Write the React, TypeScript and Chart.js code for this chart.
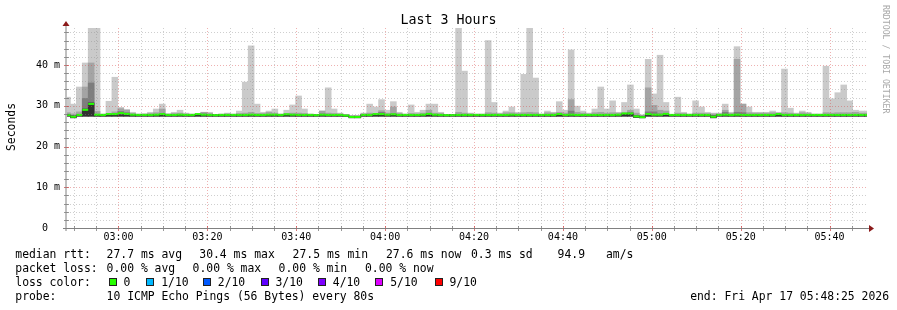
import React, { useEffect, useRef } from 'react';
import { Chart, registerables } from 'chart.js';

Chart.register(...registerables);

// ---------------- data ----------------
const START_CLOCK = '02:48:25';
const END_TEXT = 'end: Fri Apr 17 05:48:25 2026';
const STEP_SECONDS = 80;
const FIRST_SAMPLE_SECONDS = 6;
const SPAN_MINUTES = 180;
const Y_MAX = 49.08;

const xTickLabels = ['03:00', '03:20', '03:40', '04:00', '04:20', '04:40', '05:00', '05:20', '05:40'];
const yTickValues = [0, 10, 20, 30, 40];
const yTickLabels = ['0  ', '10 m', '20 m', '30 m', '40 m'];

// top of outermost smoke band (ping 10), ms
const smokeMax = [
  32.1, 30.4, 34.6, 40.5, 49.5, 49.5, 28.0, 31.1, 37.0, 29.6,
  29.1, 28.4, 28.0, 28.1, 28.4, 29.2, 30.4, 28.1, 28.4, 28.9,
  28.2, 28.0, 28.0, 28.4, 28.4, 27.9, 28.0, 28.2, 28.0, 28.7,
  35.8, 44.7, 30.4, 28.4, 28.7, 29.2, 28.0, 28.9, 30.2, 32.4,
  29.2, 28.0, 27.9, 28.7, 34.4, 29.2, 28.2, 27.8, 27.5, 27.5,
  28.2, 30.4, 29.7, 31.5, 28.9, 31.0, 28.4, 28.0, 30.2, 28.4,
  28.9, 30.4, 30.4, 28.4, 27.9, 27.9, 49.5, 38.5, 28.2, 28.0,
  28.0, 46.0, 30.8, 28.2, 28.7, 29.7, 28.4, 37.7, 49.5, 36.8,
  28.0, 28.7, 28.4, 31.0, 28.9, 43.7, 29.9, 28.7, 28.2, 29.2,
  34.6, 29.2, 31.2, 28.4, 30.8, 35.1, 29.2, 27.8, 41.4, 32.9,
  42.4, 30.8, 27.9, 32.1, 28.4, 28.0, 31.2, 29.7, 28.4, 28.2,
  28.2, 30.4, 28.4, 44.5, 30.4, 29.7, 28.4, 28.4, 28.4, 28.7,
  28.4, 39.0, 29.4, 28.2, 28.7, 28.4, 28.0, 28.0, 39.7, 31.7,
  33.2, 35.1, 31.2, 28.9, 28.7, 28.7,
];

// top of second band (ping 9)
const smokeHi = [
  28.3, 28.0, 28.5, 34.6, 40.5, 28.6, 27.9, 28.1, 28.5, 29.3,
  28.9, 28.1, 27.9, 27.9, 28.1, 28.3, 29.2, 27.9, 28.1, 28.2,
  28.0, 27.9, 27.9, 28.4, 28.1, 27.8, 27.9, 28.0, 27.9, 28.1,
  28.2, 28.4, 28.1, 28.1, 28.4, 28.2, 27.9, 28.1, 28.2, 28.2,
  28.1, 27.9, 27.8, 28.7, 28.2, 28.1, 28.0, 27.7, 27.5, 27.5,
  28.0, 28.2, 28.1, 28.8, 28.2, 29.7, 28.1, 27.9, 28.1, 28.0,
  28.2, 28.9, 28.2, 28.1, 27.8, 27.8, 28.4, 28.2, 28.0, 27.9,
  27.9, 28.3, 28.2, 28.0, 28.3, 28.3, 28.1, 28.3, 28.4, 28.3,
  27.9, 28.3, 28.2, 28.4, 28.2, 31.5, 28.4, 28.2, 28.0, 28.3,
  28.4, 28.2, 28.3, 28.2, 28.3, 28.9, 28.2, 27.6, 34.4, 30.1,
  28.9, 28.7, 27.8, 28.2, 28.1, 27.9, 28.2, 28.2, 28.1, 28.0,
  28.0, 28.9, 28.1, 41.4, 30.4, 28.3, 28.2, 28.2, 28.2, 28.3,
  28.2, 28.3, 28.2, 28.0, 28.3, 28.1, 27.9, 27.9, 28.3, 28.2,
  28.3, 28.3, 28.3, 28.4, 28.2, 28.2,
];

// top of third band (ping 8)
const smokeMid = [
  27.85, 27.6, 27.85, 31.8, 35.6, 27.9, 27.85, 27.9, 27.9, 28.6,
  28.3, 27.9, 27.85, 27.85, 27.85, 27.9, 28.0, 27.85, 27.85, 27.9,
  27.85, 27.85, 27.85, 28.0, 27.85, 27.85, 27.85, 27.85, 27.85, 27.85,
  27.9, 27.9, 27.85, 27.85, 27.9, 27.85, 27.85, 27.9, 27.85, 27.85,
  27.85, 27.85, 27.8, 28.0, 27.9, 27.85, 27.85, 27.7, 27.5, 27.5,
  27.85, 27.85, 27.9, 28.4, 27.85, 28.0, 27.85, 27.85, 27.85, 27.85,
  27.85, 28.1, 27.85, 27.85, 27.8, 27.8, 27.9, 27.85, 27.85, 27.85,
  27.85, 27.85, 27.85, 27.85, 27.85, 27.85, 27.85, 27.85, 27.9, 27.85,
  27.85, 27.85, 27.85, 27.9, 27.85, 28.7, 27.85, 27.85, 27.85, 27.85,
  27.9, 27.85, 27.85, 27.85, 28.0, 28.4, 27.6, 27.5, 28.5, 28.5,
  28.0, 28.0, 27.8, 27.85, 27.85, 27.85, 27.85, 27.85, 27.85, 27.6,
  27.85, 28.4, 27.85, 28.4, 28.3, 27.85, 27.85, 27.85, 27.85, 27.85,
  27.85, 27.85, 27.85, 27.85, 27.85, 27.85, 27.85, 27.85, 27.85, 27.85,
  27.85, 27.85, 27.85, 27.85, 27.85, 27.85,
];

// top of innermost band (ping 6)
const smokeCore = [
  27.8, 27.5, 27.8, 29.2, 30.7, 27.8, 27.8, 27.8, 27.8, 27.8,
  27.8, 27.8, 27.8, 27.8, 27.8, 27.8, 27.8, 27.8, 27.8, 27.8,
  27.8, 27.8, 27.8, 27.8, 27.8, 27.8, 27.8, 27.8, 27.8, 27.8,
  27.8, 27.8, 27.8, 27.8, 27.8, 27.8, 27.8, 27.8, 27.8, 27.8,
  27.8, 27.8, 27.8, 27.8, 27.8, 27.8, 27.8, 27.7, 27.4, 27.4,
  27.8, 27.8, 27.8, 27.8, 27.8, 27.8, 27.8, 27.8, 27.8, 27.8,
  27.8, 27.8, 27.8, 27.8, 27.8, 27.8, 27.8, 27.8, 27.8, 27.8,
  27.8, 27.8, 27.8, 27.8, 27.8, 27.8, 27.8, 27.8, 27.8, 27.8,
  27.8, 27.8, 27.8, 27.8, 27.8, 27.8, 27.8, 27.8, 27.8, 27.8,
  27.8, 27.8, 27.8, 27.8, 28.0, 28.0, 27.5, 27.4, 27.8, 27.8,
  27.8, 27.8, 27.8, 27.8, 27.8, 27.8, 27.8, 27.8, 27.8, 27.5,
  27.8, 27.8, 27.8, 27.8, 27.8, 27.8, 27.8, 27.8, 27.8, 27.8,
  27.8, 27.8, 27.8, 27.8, 27.8, 27.8, 27.8, 27.8, 27.8, 27.8,
  27.8, 27.8, 27.8, 27.8, 27.8, 27.8,
];

// lowest ping (bottom of all bands)
const smokeLow = [
  27.45, 27.05, 27.45, 27.45, 27.45, 27.45, 27.45, 27.45, 27.45, 27.45,
  27.45, 27.45, 27.45, 27.45, 27.45, 27.45, 27.45, 27.45, 27.45, 27.45,
  27.45, 27.45, 27.45, 27.45, 27.45, 27.45, 27.45, 27.45, 27.45, 27.45,
  27.45, 27.45, 27.45, 27.45, 27.45, 27.45, 27.45, 27.45, 27.45, 27.45,
  27.45, 27.45, 27.45, 27.45, 27.45, 27.45, 27.45, 27.4, 27.05, 27.05,
  27.45, 27.45, 27.45, 27.45, 27.45, 27.45, 27.45, 27.45, 27.45, 27.45,
  27.45, 27.45, 27.45, 27.45, 27.45, 27.45, 27.45, 27.45, 27.45, 27.45,
  27.45, 27.45, 27.45, 27.45, 27.45, 27.45, 27.45, 27.45, 27.45, 27.45,
  27.45, 27.45, 27.45, 27.45, 27.45, 27.45, 27.45, 27.45, 27.45, 27.45,
  27.45, 27.45, 27.45, 27.45, 27.45, 27.45, 27.15, 27.05, 27.45, 27.45,
  27.45, 27.45, 27.45, 27.45, 27.45, 27.45, 27.45, 27.45, 27.45, 27.05,
  27.45, 27.45, 27.45, 27.45, 27.45, 27.45, 27.45, 27.45, 27.45, 27.45,
  27.45, 27.45, 27.45, 27.45, 27.45, 27.45, 27.45, 27.45, 27.45, 27.45,
  27.45, 27.45, 27.45, 27.45, 27.45, 27.45,
];

// median rtt, ms
const medianRtt = [
  27.75, 27.3, 27.75, 29.0, 30.45, 27.8, 27.75, 27.95, 27.95, 28.2,
  28.0, 27.8, 27.75, 27.75, 27.75, 27.8, 27.95, 27.75, 27.75, 27.8,
  27.75, 27.75, 27.95, 27.8, 27.75, 27.7, 27.75, 27.75, 27.75, 27.75,
  27.75, 27.8, 27.75, 27.75, 27.8, 27.8, 27.75, 27.9, 27.8, 27.75,
  27.75, 27.75, 27.7, 27.8, 27.75, 27.75, 27.75, 27.6, 27.25, 27.25,
  27.75, 27.75, 27.95, 27.95, 27.8, 27.9, 27.75, 27.75, 27.75, 27.75,
  27.8, 28.0, 27.8, 27.75, 27.7, 27.7, 27.75, 27.75, 27.75, 27.75,
  27.75, 27.75, 27.75, 27.75, 27.75, 27.8, 27.75, 27.75, 27.75, 27.75,
  27.75, 27.75, 27.75, 27.95, 27.75, 27.8, 27.75, 27.75, 27.75, 27.75,
  27.75, 27.75, 27.75, 27.8, 28.1, 28.1, 27.4, 27.2, 27.95, 27.8,
  27.8, 28.0, 27.75, 27.75, 27.75, 27.75, 27.75, 27.75, 27.75, 27.3,
  27.75, 27.8, 27.75, 27.8, 27.75, 27.75, 27.75, 27.75, 27.75, 27.75,
  27.95, 27.75, 27.75, 27.75, 27.75, 27.75, 27.75, 27.75, 27.75, 27.75,
  27.75, 27.75, 27.75, 27.75, 27.75, 27.75,
];

const rttLabel = 'median rtt:';
const rttStats = ['27.7 ms avg', '30.4 ms max', '27.5 ms min', '27.6 ms now', '0.3 ms sd', '94.9', 'am/s'];
const lossLabel = 'packet loss:';
const lossStats = ['0.00 % avg', '0.00 % max', '0.00 % min', '0.00 % now'];
const lossColorLabel = 'loss color:';
const lossLevels = ['0', '1/10', '2/10', '3/10', '4/10', '5/10', '9/10'];
const lossColors = ['#26ff00', '#00b8ff', '#0059ff', '#5e00ff', '#7e00ff', '#dd00ff', '#ff0000'];
const probeLabel = 'probe:';
const probeText = '10 ICMP Echo Pings (56 Bytes) every 80s';
const TITLE = 'Last 3 Hours';
const Y_TITLE = 'Seconds';
const WATERMARK = 'RRDTOOL / TOBI OETIKER';

// ---------------- layout / style ----------------
const W = 897;
const H = 310;
const MONO = '"DejaVu Sans Mono", monospace';
const LEG_SIZE = 11.4;
const RTT_X = [106.6, 199.3, 292.6, 386, 471, 557.6, 606];
const LOSS_X = [106.6, 192.6, 278.6, 365];
const BOX_X = [108.5, 146.2, 202.8, 260.5, 317.8, 375.2, 434.5];
const ROWS = [258, 272, 286, 300];
const MEDIAN_BAND = 0.5;
const SMOKE_COLORS = ['#cacaca', '#a4a4a4', '#7e7e7e', '#323232'];
const MINOR_GRID = 'rgba(140,140,140,0.42)';
const MAJOR_GRID = 'rgba(215,70,70,0.42)';

const clockToMin = (s: string) => {
  const p = s.split(':').map(Number);
  return p[0] * 60 + p[1] + (p[2] || 0) / 60;
};
const startMin = clockToMin(START_CLOCK);
const xTickValues = xTickLabels.map((l) => clockToMin(l) - startMin);
const sampleX = smokeMax.map((_, i) => (FIRST_SAMPLE_SECONDS + i * STEP_SECONDS) / 60);

const barDataset = (low: number[], top: number[], color: string, order: number) => ({
  type: 'bar' as const,
  data: top.map((t, i) => ({ x: sampleX[i], y: [low[i], t] })),
  backgroundColor: color,
  borderWidth: 0,
  barPercentage: 1,
  categoryPercentage: 1,
  grouped: false,
  order,
});

const decor = {
  id: 'decor',
  beforeDraw(chart: any) {
    const ctx = chart.ctx;
    ctx.save();
    ctx.fillStyle = '#ffffff';
    ctx.fillRect(0, 0, chart.width, chart.height);
    ctx.restore();
  },
  afterDatasetsDraw(chart: any) {
    const { ctx, chartArea: a, scales } = chart;
    const xs = scales.x;
    const ys = scales.y;
    ctx.save();
    ctx.lineWidth = 1;
    // horizontal grid
    for (let k = 1; k * 2 < Y_MAX; k++) {
      const v = k * 2;
      const major = v % 10 === 0;
      const py = Math.round(ys.getPixelForValue(v)) + 0.5;
      ctx.setLineDash([1, 2]);
      ctx.strokeStyle = major ? MAJOR_GRID : MINOR_GRID;
      ctx.beginPath();
      ctx.moveTo(a.left, py);
      ctx.lineTo(a.right, py);
      ctx.stroke();
      ctx.setLineDash([]);
      ctx.strokeStyle = major ? 'rgba(200,60,60,0.7)' : 'rgba(110,110,110,0.7)';
      ctx.beginPath();
      ctx.moveTo(a.left - 3, py);
      ctx.lineTo(a.left + 2, py);
      ctx.stroke();
    }
    // vertical grid every 5 minutes
    const first = Math.ceil(startMin / 5) * 5;
    for (let m = first; m - startMin <= SPAN_MINUTES; m += 5) {
      const major = m % 20 === 0;
      const px = Math.round(xs.getPixelForValue(m - startMin)) + 0.5;
      if (px <= a.left + 1) continue;
      ctx.setLineDash([1, 2]);
      ctx.strokeStyle = major ? MAJOR_GRID : MINOR_GRID;
      ctx.beginPath();
      ctx.moveTo(px, a.top);
      ctx.lineTo(px, a.bottom);
      ctx.stroke();
      ctx.setLineDash([]);
      ctx.strokeStyle = major ? 'rgba(200,60,60,0.7)' : 'rgba(110,110,110,0.7)';
      ctx.beginPath();
      ctx.moveTo(px, a.bottom - 2);
      ctx.lineTo(px, a.bottom + 3);
      ctx.stroke();
    }
    // axes
    ctx.setLineDash([]);
    ctx.strokeStyle = '#808080';
    ctx.beginPath();
    ctx.moveTo(a.left - 1, a.bottom + 3);
    ctx.lineTo(a.left - 1, a.top - 2);
    ctx.moveTo(a.left - 4, a.bottom + 0.5);
    ctx.lineTo(a.right + 2, a.bottom + 0.5);
    ctx.stroke();
    // arrows
    ctx.fillStyle = '#8b1a1a';
    ctx.beginPath();
    ctx.moveTo(a.left - 1, a.top - 7);
    ctx.lineTo(a.left - 4.5, a.top - 2);
    ctx.lineTo(a.left + 2.5, a.top - 2);
    ctx.closePath();
    ctx.fill();
    ctx.beginPath();
    ctx.moveTo(a.right + 7, a.bottom + 0.5);
    ctx.lineTo(a.right + 2, a.bottom - 3);
    ctx.lineTo(a.right + 2, a.bottom + 4);
    ctx.closePath();
    ctx.fill();
    ctx.restore();
  },
  afterDraw(chart: any) {
    const ctx = chart.ctx;
    ctx.save();
    ctx.fillStyle = '#000';
    ctx.textBaseline = 'alphabetic';
    // title
    ctx.font = `13.3px ${MONO}`;
    ctx.textAlign = 'center';
    ctx.fillText(TITLE, W / 2, 24);
    // y title
    ctx.save();
    ctx.font = `${LEG_SIZE}px ${MONO}`;
    ctx.translate(15, 127);
    ctx.rotate(-Math.PI / 2);
    ctx.textAlign = 'center';
    ctx.fillText(Y_TITLE, 0, 0);
    ctx.restore();
    // watermark
    ctx.save();
    ctx.font = `8.2px ${MONO}`;
    ctx.fillStyle = '#a8a8a8';
    ctx.translate(883, 5);
    ctx.rotate(Math.PI / 2);
    ctx.textAlign = 'left';
    ctx.fillText(WATERMARK, 0, 0);
    ctx.restore();
    // legend
    ctx.font = `${LEG_SIZE}px ${MONO}`;
    ctx.textAlign = 'left';
    ctx.fillText(rttLabel, 15.3, ROWS[0]);
    rttStats.forEach((s, i) => ctx.fillText(s, RTT_X[i], ROWS[0]));
    ctx.fillText(lossLabel, 15.3, ROWS[1]);
    lossStats.forEach((s, i) => ctx.fillText(s, LOSS_X[i], ROWS[1]));
    ctx.fillText(lossColorLabel, 15.3, ROWS[2]);
    lossLevels.forEach((s, i) => {
      const bx = Math.round(BOX_X[i]);
      ctx.fillStyle = lossColors[i];
      ctx.fillRect(bx, ROWS[2] - 8, 8, 8);
      ctx.strokeStyle = '#202020';
      ctx.lineWidth = 1;
      ctx.strokeRect(bx + 0.5, ROWS[2] - 7.5, 7, 7);
      ctx.fillStyle = '#000';
      ctx.fillText(s, BOX_X[i] + 15, ROWS[2]);
    });
    ctx.fillText(probeLabel, 15.3, ROWS[3]);
    ctx.fillText(probeText, 106.6, ROWS[3]);
    ctx.textAlign = 'right';
    ctx.fillText(END_TEXT, 889, ROWS[3]);
    ctx.restore();
  },
};

export default function App() {
  const ref = useRef<HTMLCanvasElement>(null);
  useEffect(() => {
    if (!ref.current) return;
    const chart = new Chart(ref.current, {
      type: 'bar',
      data: {
        datasets: [
          {
            ...barDataset(
              medianRtt.map((m) => m - MEDIAN_BAND / 2),
              medianRtt.map((m) => m + MEDIAN_BAND / 2),
              lossColors[0],
              0
            ),
            inflateAmount: 0,
          },
          barDataset(smokeLow, smokeCore, SMOKE_COLORS[3], 1),
          barDataset(smokeLow, smokeMid, SMOKE_COLORS[2], 2),
          barDataset(smokeLow, smokeHi, SMOKE_COLORS[1], 3),
          barDataset(smokeLow, smokeMax, SMOKE_COLORS[0], 4),
        ] as any,
      },
      options: {
        responsive: false,
        animation: false,
        devicePixelRatio: 1,
        events: [],
        layout: { padding: { left: 0, right: 30, top: 28, bottom: 0 } },
        plugins: { legend: { display: false }, tooltip: { enabled: false }, title: { display: false } },
        scales: {
          x: {
            type: 'linear',
            min: 0,
            max: SPAN_MINUTES,
            offset: false,
            grid: { display: false, drawTicks: false },
            border: { display: false },
            afterBuildTicks: (s: any) => {
              s.ticks = xTickValues.map((v) => ({ value: v }));
            },
            afterFit: (s: any) => {
              s.height = 82;
            },
            ticks: {
              autoSkip: false,
              maxRotation: 0,
              padding: 3,
              color: '#000',
              font: { family: MONO, size: 10 },
              callback: (_v: any, i: number) => xTickLabels[i],
            },
          },
          y: {
            type: 'linear',
            min: 0,
            max: Y_MAX,
            grid: { display: false, drawTicks: false },
            border: { display: false },
            afterBuildTicks: (s: any) => {
              s.ticks = yTickValues.map((v) => ({ value: v }));
            },
            afterFit: (s: any) => {
              s.width = 67;
            },
            ticks: {
              padding: 7,
              color: '#000',
              font: { family: MONO, size: 10 },
              callback: (_v: any, i: number) => yTickLabels[i],
            },
          },
        },
      } as any,
      plugins: [decor],
    });
    return () => chart.destroy();
  }, []);
  return (
    <div style={{ position: 'absolute', left: 0, top: 0, width: W, height: H, background: '#fff' }}>
      <canvas ref={ref} width={W} height={H} style={{ display: 'block', width: W, height: H }} />
    </div>
  );
}
